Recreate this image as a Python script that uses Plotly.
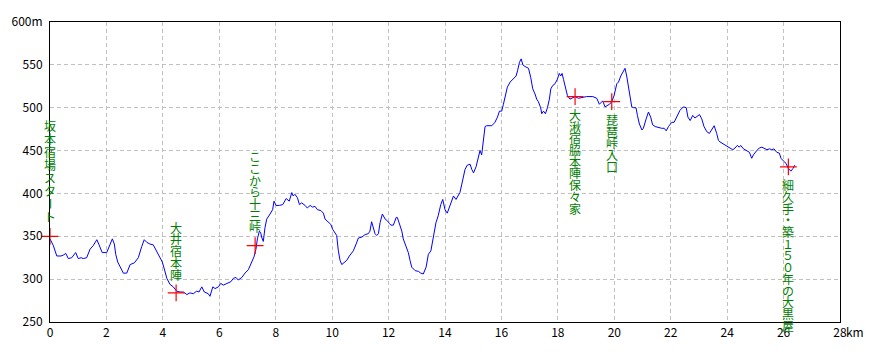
import plotly.graph_objects as go

# Elevation profile (distance km, elevation m)
dist_km = [0.0, 0.12, 0.24, 0.39, 0.47, 0.56, 0.65, 0.77, 0.91, 1.00, 1.10, 1.18, 1.30, 1.42, 1.53, 1.66, 1.74, 1.85,
           2.01, 2.13, 2.21, 2.28, 2.33, 2.40, 2.52, 2.60, 2.72, 2.84, 2.99, 3.13, 3.25, 3.34, 3.43, 3.54, 3.66, 3.78,
           3.90, 3.98, 4.05, 4.14, 4.25, 4.37, 4.49, 4.61, 4.73, 4.85, 4.96, 5.08, 5.20, 5.28, 5.38, 5.47, 5.61, 5.67,
           5.77, 5.85, 5.97, 6.05, 6.14, 6.26, 6.41, 6.50, 6.59, 6.67, 6.80, 6.91, 7.03, 7.15, 7.23, 7.30, 7.35, 7.42,
           7.47, 7.50, 7.56, 7.62, 7.68, 7.80, 7.89, 7.94, 8.01, 8.13, 8.25, 8.37, 8.48, 8.57, 8.62, 8.68, 8.77, 8.84,
           8.92, 9.04, 9.12, 9.22, 9.31, 9.39, 9.48, 9.60, 9.69, 9.75, 9.87, 9.95, 10.02, 10.10, 10.16, 10.22, 10.28,
           10.34, 10.42, 10.52, 10.61, 10.75, 10.85, 10.93, 11.05, 11.17, 11.28, 11.34, 11.40, 11.46, 11.52, 11.58,
           11.64, 11.70, 11.78, 11.88, 11.96, 12.03, 12.08, 12.17, 12.27, 12.31, 12.38, 12.47, 12.52, 12.62, 12.70,
           12.76, 12.82, 12.94, 13.06, 13.14, 13.23, 13.33, 13.41, 13.50, 13.59, 13.68, 13.76, 13.85, 13.92, 14.00,
           14.08, 14.15, 14.24, 14.30, 14.39, 14.44, 14.53, 14.59, 14.65, 14.71, 14.79, 14.89, 14.95, 15.01, 15.10,
           15.18, 15.24, 15.30, 15.36, 15.42, 15.48, 15.66, 15.77, 15.86, 15.93, 16.01, 16.07, 16.13, 16.21, 16.31,
           16.42, 16.52, 16.57, 16.64, 16.70, 16.76, 16.84, 16.96, 17.04, 17.11, 17.19, 17.25, 17.31, 17.39, 17.43,
           17.49, 17.56, 17.63, 17.70, 17.75, 17.82, 17.90, 17.98, 18.05, 18.10, 18.15, 18.20, 18.26, 18.34, 18.43,
           18.53, 18.61, 18.73, 18.85, 19.02, 19.24, 19.38, 19.47, 19.59, 19.67, 19.76, 19.83, 19.91, 19.99, 20.09,
           20.15, 20.23, 20.30, 20.38, 20.44, 20.50, 20.56, 20.62, 20.68, 20.77, 20.82, 20.89, 20.98, 21.03, 21.13,
           21.21, 21.29, 21.36, 21.45, 21.56, 21.68, 21.77, 21.84, 21.92, 22.04, 22.12, 22.22, 22.33, 22.45, 22.55,
           22.61, 22.69, 22.78, 22.86, 23.02, 23.10, 23.18, 23.28, 23.37, 23.46, 23.54, 23.63, 23.69, 23.75, 23.85,
           23.93, 24.01, 24.10, 24.20, 24.28, 24.36, 24.43, 24.48, 24.58, 24.70, 24.79, 24.87, 24.93, 25.05, 25.14,
           25.23, 25.31, 25.41, 25.50, 25.58, 25.66, 25.76, 25.85, 25.91, 25.99, 26.09, 26.17, 26.26, 26.33, 26.40]

elev_m = [347, 339, 327, 327, 328, 330, 324, 325, 331, 324, 325, 324, 325, 335, 339, 346, 340, 331,
          331, 341, 347, 341, 329, 320, 312, 307, 307, 317, 319, 325, 338, 346, 343, 341, 340, 332,
          325, 320, 312, 301, 294, 291, 286, 285, 285, 282, 284, 283, 286, 285, 291, 285, 283, 280,
          291, 289, 291, 295, 293, 295, 297, 301, 302, 299, 302, 307, 311, 320, 326, 335, 347, 356,
          354, 349, 344, 360, 370, 376, 381, 391, 386, 386, 387, 394, 391, 401, 397, 399, 395, 387,
          389, 386, 383, 386, 384, 385, 381, 380, 377, 370, 366, 364, 358, 353, 351, 333, 322,
          317, 319, 322, 327, 333, 341, 348, 349, 352, 353, 356, 367, 361, 353, 351,
          353, 366, 376, 370, 368, 365, 363, 363, 372, 372, 365, 356, 347, 337, 331,
          322, 314, 310, 309, 307, 306, 314, 329, 333, 348, 366, 374, 387, 393, 381,
          377, 383, 391, 397, 393, 396, 401, 410, 420, 428, 433, 434, 428, 424, 431,
          441, 450, 445, 460, 478, 479, 479, 483, 489, 496, 496, 504, 514, 524, 530,
          534, 537, 543, 553, 557, 550, 548, 546, 535, 522, 516, 510, 507, 500, 493,
          496, 493, 500, 510, 522, 526, 528, 533, 540, 537, 540, 533, 524, 514, 510,
          512, 513, 511, 512, 513, 513, 511, 504, 508, 501, 503, 504, 507, 514, 528,
          530, 537, 542, 546, 537, 526, 514, 501, 500, 500, 491, 481, 474, 476, 487,
          495, 489, 480, 478, 477, 476, 476, 473, 478, 483, 483, 490, 497, 501, 500,
          489, 485, 491, 488, 492, 487, 478, 472, 470, 474, 479, 470, 462, 460, 458,
          456, 454, 453, 451, 453, 456, 454, 456, 452, 450, 448, 441, 445, 450, 453,
          454, 453, 451, 452, 451, 452, 448, 447, 441, 438, 435, 429, 426, 429, 433]

# Waypoints
mark_km = [0.0, 4.47, 7.27, 18.61, 19.91, 26.17]
mark_m = [350, 284, 339, 513, 507, 431]
mark_labels = ["坂本宿場スタート", "大井宿本陣", "ここから十三峠", "大湫宿脇本陣保々家", "琵琶峠入口", "細久手・築１５０年の大黒屋"]
mark_side = ["above", "above", "above", "below", "below", "below"]

x_ticks = [0, 2, 4, 6, 8, 10, 12, 14, 16, 18, 20, 22, 24, 26, 28]
x_ticktext = ["0", "2", "4", "6", "8", "10", "12", "14", "16", "18", "20", "22", "24", "26", "28"]
y_ticks = [250, 300, 350, 400, 450, 500, 550, 600]
y_ticktext = ["250", "300", "350", "400", "450", "500", "550", "600m"]

fig = go.Figure()
fig.add_trace(go.Scatter(x=dist_km, y=elev_m, mode="lines",
                         line=dict(color="#0000ff", width=1), hoverinfo="skip"))
fig.add_trace(go.Scatter(x=mark_km, y=mark_m, mode="markers", cliponaxis=False,
                         marker=dict(symbol="cross-thin", size=12, color="#ff0000",
                                     line=dict(color="#ff0000", width=1.2)), hoverinfo="skip"))

annotations = []
for km, m, label, side in zip(mark_km, mark_m, mark_labels, mark_side):
    n = len(label)
    pitch = 13.0 if side == "above" and n == 8 else 11.7
    for i, ch in enumerate(label):
        if side == "above":
            ys = 13 + (n - 1 - i) * pitch + pitch / 2
        else:
            ys = -(12 + i * pitch + pitch / 2)
        annotations.append(dict(x=km, y=m, xref="x", yref="y", text=ch, showarrow=False,
                                xanchor="center", yanchor="middle", yshift=ys,
                                textangle=90 if ch == "ー" else 0,
                                font=dict(family="Noto Sans CJK JP", size=12, color="#008000")))

annotations.append(dict(x=28, y=0, xref="x", yref="paper", text="km", showarrow=False,
                        xanchor="left", yanchor="top", xshift=4, yshift=1,
                        font=dict(family="Noto Sans CJK JP", size=12, color="#000000")))

fig.update_layout(
    width=880, height=352,
    margin=dict(l=50, r=40, t=19, b=30),
    paper_bgcolor="white", plot_bgcolor="white",
    showlegend=False,
    annotations=annotations,
    font=dict(family="Noto Sans CJK JP", size=12, color="#000000"),
)
fig.update_xaxes(range=[0, 28], tickvals=x_ticks, ticktext=x_ticktext,
                 showgrid=True, gridcolor="#c0c0c0", griddash="4px,3px", gridwidth=1,
                 zeroline=False, showline=True, mirror=True, linecolor="#000000", linewidth=1,
                 ticks="", tickfont=dict(size=12, color="#000000"))
fig.update_yaxes(range=[250, 600], tickvals=y_ticks, ticktext=y_ticktext,
                 showgrid=True, gridcolor="#c0c0c0", griddash="4px,3px", gridwidth=1,
                 zeroline=False, showline=True, mirror=True, linecolor="#000000", linewidth=1,
                 ticks="", ticklabelstandoff=4, tickfont=dict(size=12, color="#000000"))

fig.write_html("out.html")
